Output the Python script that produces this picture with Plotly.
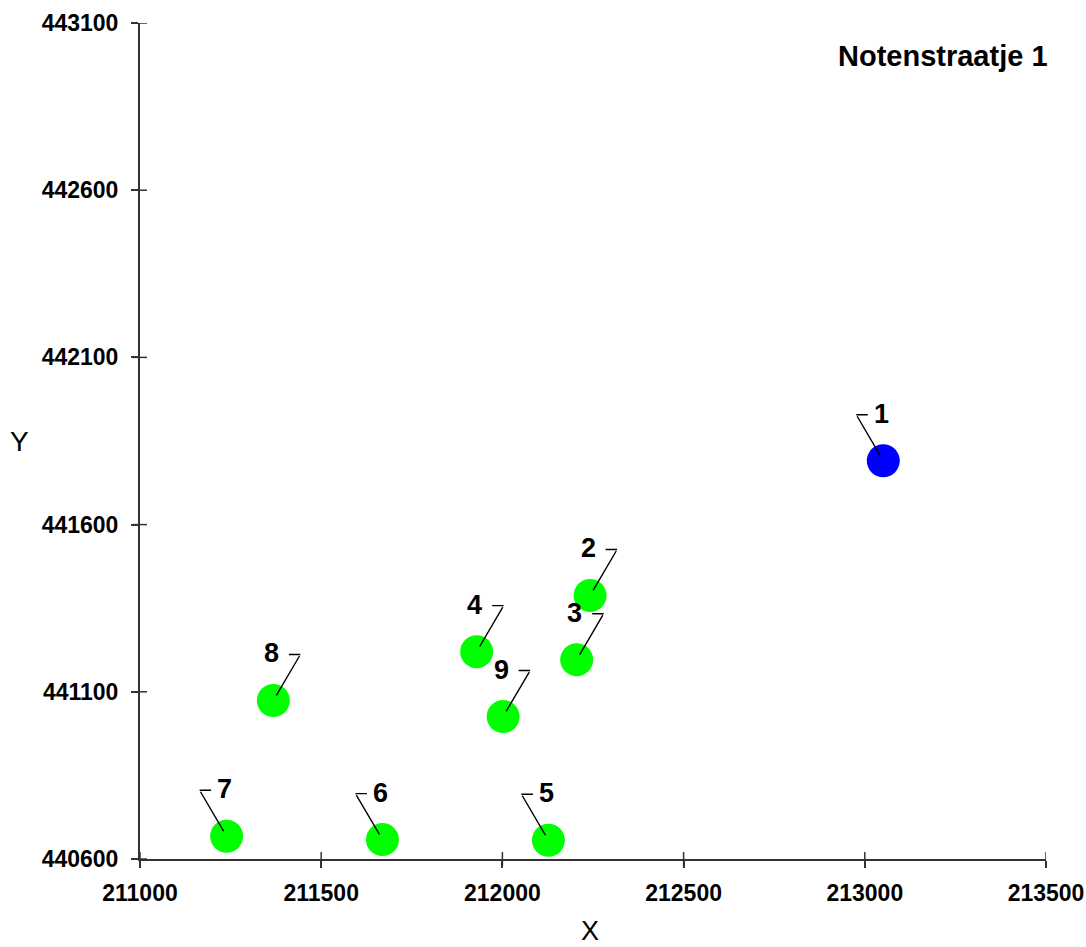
import plotly.graph_objects as go

# ---- data ----
point_ids = ["1", "2", "3", "4", "5", "6", "7", "8", "9"]
x_vals = [213051, 212242, 212205, 211929, 212127, 211669, 211239, 211368, 212002]
y_vals = [441791, 441388, 441196, 441220, 440656, 440658, 440668, 441074, 441026]
point_colors = ["#0000FF", "#00FF00", "#00FF00", "#00FF00", "#00FF00",
                "#00FF00", "#00FF00", "#00FF00", "#00FF00"]
label_side = ["left", "right", "right", "right", "left", "left", "left", "right", "right"]

x_ticks = [211000, 211500, 212000, 212500, 213000, 213500]
y_ticks = [440600, 441100, 441600, 442100, 442600, 443100]
x_range = [211000, 213500]
y_range = [440600, 443100]

chart_title = "Notenstraatje 1"
x_title = "X"
y_title = "Y"

# ---- figure ----
AXCOL = "#333333"
FAM = "Liberation Sans, Arial, sans-serif"
tickfont = dict(family=FAM, size=23, color="black", weight="bold")

fig = go.Figure()
fig.add_trace(go.Scatter(
    x=x_vals, y=y_vals, mode="markers",
    marker=dict(size=33, color=point_colors, line=dict(width=0)),
    hoverinfo="skip", showlegend=False,
))

annotations = []
for pid, xv, yv, side in zip(point_ids, x_vals, y_vals, label_side):
    sgn = 1 if side == "right" else -1
    # slanted leader from point to corner
    annotations.append(dict(
        x=xv, y=yv, xref="x", yref="y", text="", showarrow=True,
        arrowhead=0, arrowwidth=1.4, arrowcolor="black",
        ax=27 * sgn, ay=-46, standoff=6,
    ))
    # short horizontal segment at the corner
    annotations.append(dict(
        x=xv, y=yv, xref="x", yref="y", text="", showarrow=True,
        arrowhead=0, arrowwidth=1.4, arrowcolor="black",
        xshift=27 * sgn, yshift=46, ax=-13 * sgn, ay=0, standoff=0,
    ))
    # label text
    annotations.append(dict(
        x=xv, y=yv, xref="x", yref="y", text=pid, showarrow=False,
        xshift=-2, yshift=47, xanchor="center", yanchor="middle",
        font=dict(family=FAM, size=27, color="black", weight="bold"),
    ))

annotations.append(dict(
    text=chart_title, xref="paper", yref="paper", x=1.0044, y=0.9605,
    xanchor="right", yanchor="middle", showarrow=False,
    font=dict(family=FAM, size=29, color="black", weight="bold"),
))
annotations.append(dict(
    text=x_title, xref="paper", yref="paper", x=0.4967, y=-0.0861,
    xanchor="center", yanchor="middle", showarrow=False,
    font=dict(family=FAM, size=27, color="black"),
))
annotations.append(dict(
    text=y_title, xref="paper", yref="paper", x=-0.1325, y=0.5,
    xanchor="center", yanchor="middle", showarrow=False,
    font=dict(family=FAM, size=28, color="black"),
))

# crossing tick marks (inside half) via pixel-sized shapes anchored at the axes
shapes = []
for t in x_ticks:
    shapes.append(dict(type="line", xref="x", x0=t, x1=t, yref="paper",
                       ysizemode="pixel", yanchor=0, y0=-7, y1=7,
                       line=dict(color=AXCOL, width=1.5)))
for t in y_ticks:
    shapes.append(dict(type="line", yref="y", y0=t, y1=t, xref="paper",
                       xsizemode="pixel", xanchor=0, x0=-7, x1=7,
                       line=dict(color=AXCOL, width=1.5)))

common_axis = dict(showgrid=False, zeroline=False, showline=True, linecolor=AXCOL,
                   linewidth=2, ticks="outside", ticklen=7, tickwidth=1.5, tickcolor=AXCOL,
                   automargin=False, ticklabeloverflow="allow")

fig.update_layout(
    width=1086, height=947,
    margin=dict(l=140, r=40, t=23, b=88),
    plot_bgcolor="white", paper_bgcolor="white",
    showlegend=False,
    xaxis=dict(range=x_range, tickvals=x_ticks, ticktext=[str(v) for v in x_ticks],
               tickfont=tickfont, ticklabelstandoff=5, **common_axis),
    yaxis=dict(range=y_range, tickvals=y_ticks, ticktext=[str(v) for v in y_ticks],
               tickfont=tickfont, ticklabelstandoff=8, **common_axis),
    annotations=annotations,
    shapes=shapes,
)

fig.write_html(
    "out.html",
    config={"displayModeBar": False},
    post_script="document.body.style.margin='0';document.body.style.overflow='hidden';",
)
